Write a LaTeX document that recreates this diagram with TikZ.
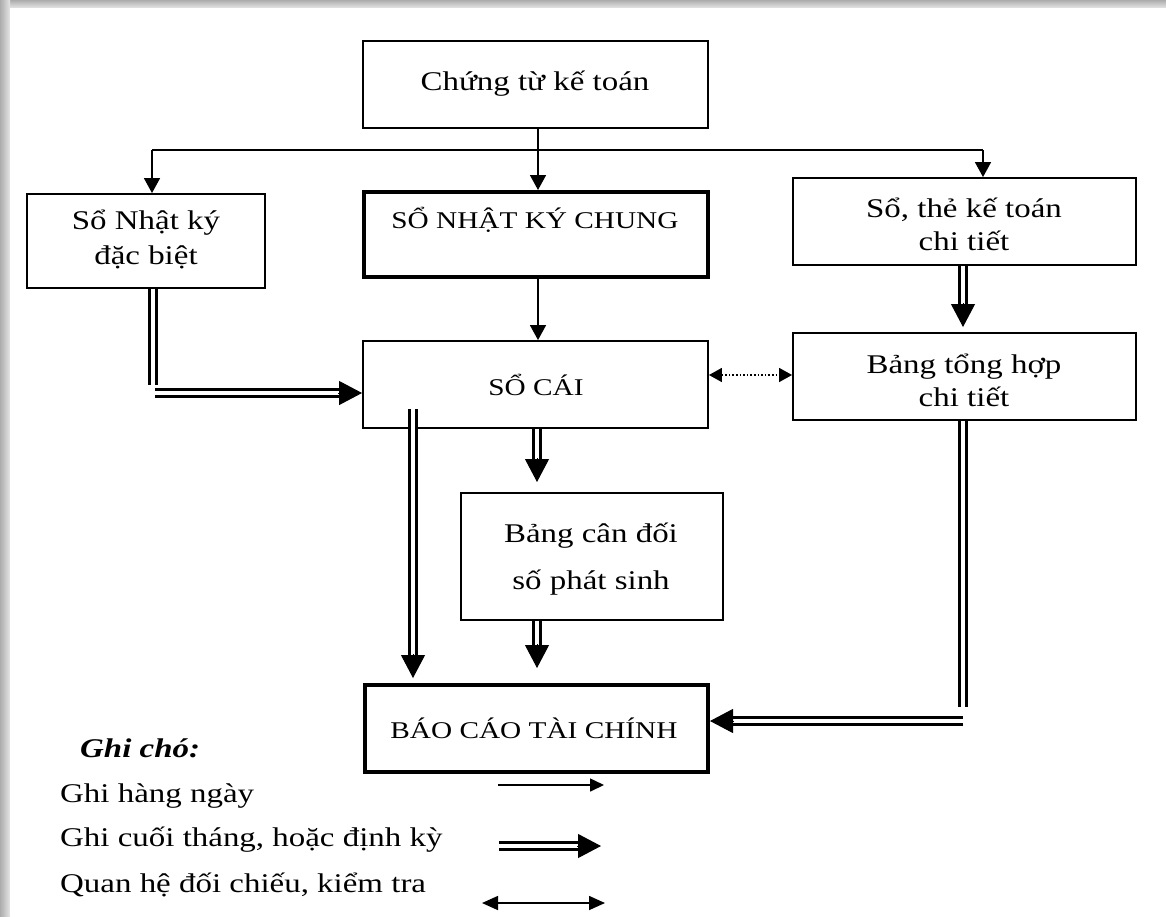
\documentclass[tikz,border=0pt]{standalone}
\usepackage{fontspec}
\setmainfont{Liberation Serif}[FakeStretch=1.22]
\usetikzlibrary{arrows.meta,calc}

% double-line arrow: shaft with two rules, then a solid triangular head
\newcommand\dblarrow[2]{%
  \draw[dbl, shorten >=20pt] #1 -- #2;
  \draw[bigtip] ($#2!24pt!#1$) -- #2;}

\begin{document}
\begin{tikzpicture}[x=1pt,y=-1pt,
  box/.style={draw, line width=1.9pt, inner sep=0pt},
  heavybox/.style={draw, line width=4pt, inner sep=0pt},
  txt/.style={inner sep=0pt, align=center, font=\fontsize{27}{33}\selectfont},
  caps/.style={inner sep=0pt, font=\fontsize{24}{30}\selectfont},
  legend/.style={inner sep=0pt, anchor=west, font=\fontsize{27}{33}\selectfont},
  flow/.style={line width=1.6pt},
  smalltip/.style={flow, -{Triangle[length=15pt,width=16pt]}},
  dbl/.style={line width=3pt, double distance=3.2pt, double=white, draw=black},
  bigtip/.style={line width=1pt, -{Triangle[length=23pt,width=24pt]}},
  check/.style={flow, dotted, {Triangle[length=13pt,width=14pt]}-{Triangle[length=13pt,width=14pt]}},
]
\useasboundingbox (0,0) rectangle (1166,916);

% page with its shadowed top and left edges
\shade[top color=gray!65, bottom color=gray!20] (0,0) rectangle (1166,8);
\shade[left color=gray!65, right color=gray!20] (0,0) rectangle (10,916);
\fill[white] (10,8) rectangle (1166,916);

% boxes
\node[box, minimum width=345pt, minimum height=87pt] (ct) at (535.5,84.5) {};
\node[txt] (ct-l) at (535,84) {Chứng từ kế toán};

\node[box, minimum width=238pt, minimum height=94pt] (nkdb) at (146,241) {};
\node[txt, font=\fontsize{27}{35}\selectfont] (nkdb-l) at (146,239.5) {Sổ Nhật ký\\đặc biệt};

\node[heavybox, minimum width=344pt, minimum height=85pt] (snkc) at (536,234.5) {};
\node[caps] (snkc-l) at (535,220) {SỔ NHẬT KÝ CHUNG};

\node[box, minimum width=343pt, minimum height=87pt] (stkt) at (964.5,221.5) {};
\node[txt] (stkt-l) at (964,224) {Sổ, thẻ kế toán\\chi tiết};

\node[box, minimum width=345pt, minimum height=87pt] (sc) at (535.5,384.5) {};
\node[caps] (sc-l) at (536,385) {SỔ CÁI};

\node[box, minimum width=343pt, minimum height=87pt] (bth) at (964.5,376.5) {};
\node[txt] (bth-l) at (964,380) {Bảng tổng hợp\\chi tiết};

\node[box, minimum width=262pt, minimum height=127pt] (bcd) at (592,556.5) {};
\node[txt, font=\fontsize{27}{47}\selectfont] (bcd-l) at (591,559.5) {Bảng cân đối\\số phát sinh};

\node[heavybox, minimum width=343pt, minimum height=87pt] (bctc) at (536.5,728.5) {};
\node[caps] (bctc-l) at (534,728) {BÁO CÁO TÀI CHÍNH};

% daily postings from the vouchers
\coordinate (busL) at (152,150);
\coordinate (busR) at (983,150);
\draw[flow] (busL) -- (busR);
\draw[smalltip] (ct.south -| 538,0) -- (snkc.north -| 538,0);
\draw[smalltip] (busL) -- (busL |- nkdb.north);
\draw[smalltip] (busR) -- (busR |- stkt.north);
\draw[smalltip] (snkc.south -| 538,0) -- (sc.north -| 538,0);

% cross-check between ledger and detail summary
\draw[check] (sc.east |- 0,375) -- (bth.west |- 0,375);

% special journals into the ledger
\coordinate (nkdb-c) at (153,385);
\draw[dbl] (nkdb.south -| nkdb-c) -- (nkdb-c);
\coordinate (nkdb-h) at (155,393);
\dblarrow{(nkdb-h)}{(sc.west |- nkdb-h)}

% detail books into the detail summary
\dblarrow{(stkt.south -| 963,0)}{(963,327)}

% ledger to trial balance and reports
\coordinate (sc-o) at (413,409);
\dblarrow{(sc-o)}{(413,678)}
\dblarrow{(sc.south -| 537,0)}{(537,482)}
\dblarrow{(bcd.south -| 537,0)}{(537,668)}

% detail summary into the reports
\coordinate (bth-c) at (963,707);
\draw[dbl] (bth.south -| bth-c) -- (bth-c);
\coordinate (bth-h) at (963,721);
\dblarrow{(bth-h)}{(bctc.east |- bth-h)}

% legend
\node[legend, font=\fontsize{27}{33}\selectfont\bfseries\itshape] (key) at (80,748) {Ghi chó:};
\node[legend] (k1) at (60,796) {Ghi hàng ngày};
\node[legend] (k2) at (60,840) {Ghi cuối tháng, hoặc định kỳ};
\node[legend] (k3) at (60,885) {Quan hệ đối chiếu, kiểm tra};
\coordinate (k1a) at (498,785);
\coordinate (k1b) at (604,785);
\draw[flow, -{Triangle[length=14pt,width=13pt]}] (k1a) -- (k1b);
\coordinate (k2a) at (499,846);
\coordinate (k2b) at (601,846);
\dblarrow{(k2a)}{(k2b)}
\coordinate (k3a) at (482,903);
\coordinate (k3b) at (605,903);
\draw[flow, {Triangle[length=16pt,width=14pt]}-{Triangle[length=16pt,width=14pt]}] (k3a) -- (k3b);
\end{tikzpicture}
\end{document}
